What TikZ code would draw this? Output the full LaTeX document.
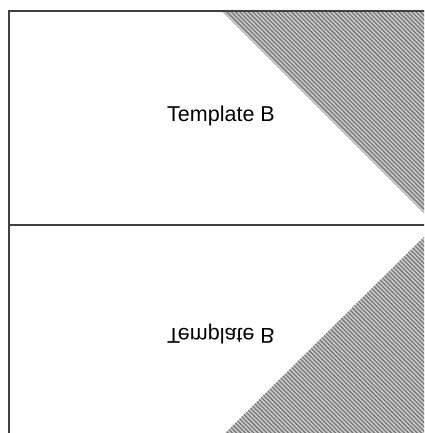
\documentclass[tikz,border=0pt]{standalone}
\usepackage{fontspec}
\newfontfamily\labelfont{Liberation Sans}

\begin{document}
\begin{tikzpicture}[x=1pt, y=-1pt, frame/.style={line width=1.2pt, black!75},
            hatch/.style={line width=1.1pt, black!55},
            label/.style={font=\labelfont\fontsize{21.5}{25}\selectfont}]
            \useasboundingbox (0,0) rectangle (424,433);
            \clip (0,0) rectangle (424,433);

            % hatched corners
            \begin{scope}
                \clip (222,11) -- (440,11) -- (440,229) -- cycle;
                \fill[black!22] (200,0) rectangle (440,240);
                \foreach \a in {0,4.3,...,440}
                    \draw[hatch] (\a,0) -- ++(240,240);
            \end{scope}
            \begin{scope}
                \clip (440,221) -- (440,450) -- (208,450) -- cycle;
                \fill[black!22] (200,210) rectangle (440,450);
                \foreach \a in {-240,-235.7,...,440}
                    \draw[hatch] (\a,210) -- ++(240,240);
            \end{scope}

            % frame
            \coordinate (tl) at (9,11);
            \coordinate (tr) at (430,11);
            \coordinate (ml) at (9,225);
            \coordinate (mr) at (430,225);
            \coordinate (bl) at (9,440);
            \draw[frame] (tr) -- (tl) -- (bl);
            \draw[frame] (ml) -- (mr);

            \node[label] (top) at (221,116) {Template B};
            \node[label, yscale=-1] (bottom) at (221,334) {Template B};

            \end{tikzpicture}
\end{document}
